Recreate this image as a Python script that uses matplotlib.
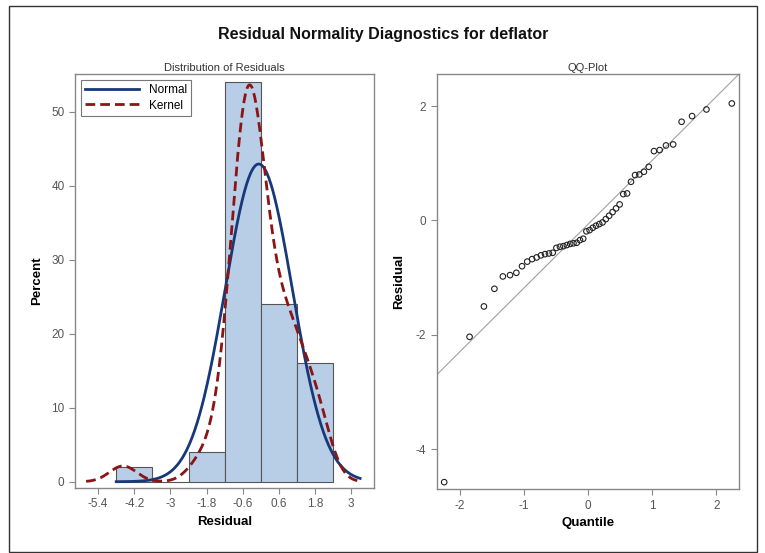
import numpy as np
import matplotlib
matplotlib.use("Agg")
import matplotlib.pyplot as plt
from matplotlib.patches import Rectangle
from statistics import NormalDist

plt.rcParams["font.family"] = ["Liberation Sans", "DejaVu Sans"]
plt.rcParams["axes.unicode_minus"] = False

# Sorted residuals (n = 50)
residuals = [
    -4.575, -2.034, -1.503, -1.195, -0.979, -0.956, -0.915, -0.800, -0.720, -0.676,
    -0.647, -0.610, -0.589, -0.577, -0.565, -0.480, -0.460, -0.450, -0.430, -0.410,
    -0.400, -0.390, -0.344, -0.320, -0.190, -0.169, -0.128, -0.093, -0.064, -0.035,
    0.023, 0.082, 0.146, 0.210, 0.280, 0.460, 0.472, 0.676, 0.793, 0.804,
    0.851, 0.938, 1.212, 1.230, 1.311, 1.329, 1.725, 1.824, 1.940, 2.045,
]
bin_edges = [-4.8, -3.6, -2.4, -1.2, 0.0, 1.2, 2.4]
hist_xticks = [-5.4, -4.2, -3.0, -1.8, -0.6, 0.6, 1.8, 3.0]
hist_xticklabels = ["-5.4", "-4.2", "-3", "-1.8", "-0.6", "0.6", "1.8", "3"]
hist_yticks = [0, 10, 20, 30, 40, 50]
qq_xticks = [-2, -1, 0, 1, 2]
qq_yticks = [-4, -2, 0, 2]
kernel_bandwidth = 0.45

res = np.array(residuals)
n = len(res)
edges = np.array(bin_edges)
bw = edges[1] - edges[0]
counts, _ = np.histogram(res, bins=edges)
pct = 100.0 * counts / n
mu = res.mean()
sd = res.std(ddof=1)

fig = plt.figure(figsize=(7.65, 5.53), dpi=100)
fig.patches.append(Rectangle((9 / 765, 1 - 552 / 553), 748 / 765, 546 / 553,
                             transform=fig.transFigure, fill=False,
                             edgecolor="#333333", linewidth=1.0))

spine_c = "#888888"
tick_c = "#555555"

def style(ax):
    for s in ax.spines.values():
        s.set_color(spine_c)
        s.set_linewidth(1.0)
    ax.tick_params(colors=spine_c, labelcolor=tick_c, labelsize=8.5, length=4, width=0.8)

# Left: histogram
ax1 = fig.add_axes([75 / 765, 1 - 488 / 553, 299 / 765, 414 / 553])
ax1.bar(edges[:-1], pct, width=bw, align="edge", color="#b8cde6",
        edgecolor="#555555", linewidth=0.8, zorder=1)
xn = np.linspace(-4.8, 3.3, 400)
normal_pct = 100 * bw * np.exp(-0.5 * ((xn - mu) / sd) ** 2) / (sd * np.sqrt(2 * np.pi))
ax1.plot(xn, normal_pct, color="#17397a", lw=2.0, label="Normal", zorder=3)
xk = np.linspace(-5.8, 3.25, 400)
kde = np.exp(-0.5 * ((xk[:, None] - res[None, :]) / kernel_bandwidth) ** 2).sum(axis=1)
kde = kde / (n * kernel_bandwidth * np.sqrt(2 * np.pi))
ax1.plot(xk, 100 * bw * kde, color="#8b1414", lw=2.0, ls=(0, (3.5, 1.8)),
         label="Kernel", zorder=3)
ax1.set_xlim(-6.17, 3.76)
ax1.set_ylim(-0.85, 55.1)
ax1.set_xticks(hist_xticks)
ax1.set_xticklabels(hist_xticklabels)
ax1.set_yticks(hist_yticks)
ax1.set_xlabel("Residual", fontsize=9.5, fontweight="bold", labelpad=4)
ax1.set_ylabel("Percent", fontsize=9.5, fontweight="bold", labelpad=6)
ax1.set_title("Distribution of Residuals", fontsize=8, color="#333333", pad=2)
leg = ax1.legend(loc="upper left", fontsize=8.5, frameon=True, fancybox=False,
                 edgecolor="#555555", borderpad=0.35, handlelength=4.6,
                 labelspacing=0.3, borderaxespad=0.5)
leg.get_frame().set_linewidth(0.8)
style(ax1)

# Right: QQ plot
probs = [(i + 1 - 0.375) / (n + 0.25) for i in range(n)]
quant = np.array([NormalDist().inv_cdf(p) for p in probs])
ax2 = fig.add_axes([436.7 / 765, 1 - 489.3 / 553, 302.6 / 765, 415.3 / 553])
xl = np.array([-2.36, 2.36])
ax2.plot(xl, mu + sd * xl, color="#a0a0a0", lw=0.8, zorder=1)
ax2.scatter(quant, np.sort(res), s=16, facecolors="none", edgecolors="#222222",
            linewidths=0.8, zorder=2)
ax2.set_xlim(-2.36, 2.36)
ax2.set_ylim(-4.70, 2.56)
ax2.set_xticks(qq_xticks)
ax2.set_yticks(qq_yticks)
ax2.set_xlabel("Quantile", fontsize=9.5, fontweight="bold", labelpad=4)
ax2.set_ylabel("Residual", fontsize=9.5, fontweight="bold", labelpad=8)
ax2.set_title("QQ-Plot", fontsize=8, color="#333333", pad=2)
style(ax2)

fig.text(383 / 765, 1 - 34 / 553, "Residual Normality Diagnostics for deflator",
         ha="center", va="center", fontsize=11.5, fontweight="bold", color="#111111")

fig.savefig("out.png", dpi=100)
